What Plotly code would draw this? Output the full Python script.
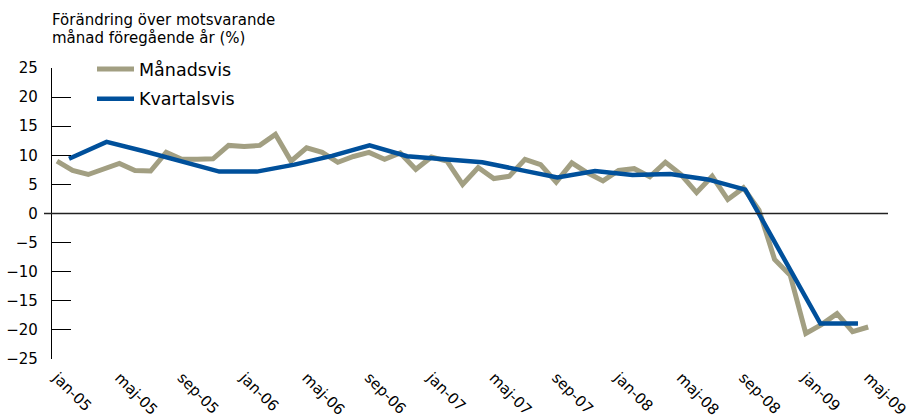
import plotly.graph_objects as go

# Monthly data (jan-05 .. maj-09), year-on-year change in %
monthly_values = [
    9.0, 7.4, 6.7, 7.6, 8.6, 7.4, 7.3, 10.5, 9.3, 9.3, 9.4, 11.7,
    11.5, 11.7, 13.6, 9.0, 11.3, 10.5, 8.8, 9.8, 10.5, 9.3, 10.4, 7.6,
    9.7, 9.0, 5.0, 7.9, 6.0, 6.4, 9.3, 8.4, 5.4, 8.7, 7.0, 5.6,
    7.4, 7.7, 6.3, 8.8, 6.7, 3.6, 6.4, 2.4, 4.4, 0.6, -7.9, -10.6,
    -20.6, -19.1, -17.2, -20.3, -19.5,
]
month_index = list(range(len(monthly_values)))

# Quarterly series (plotted on its own category axis)
quarterly_values = [
    9.4, 12.3, 10.7, 9.0, 7.2, 7.2, 8.4, 9.9, 11.7, 9.85, 9.3,
    8.8, 7.5, 6.2, 7.3, 6.6, 6.8, 5.85, 4.1, -7.4, -18.9, -18.9,
]
quarter_index = list(range(len(quarterly_values)))

tick_months = list(range(0, 53, 4))
tick_labels = [
    "jan-05", "maj-05", "sep-05", "jan-06", "maj-06", "sep-06", "jan-07",
    "maj-07", "sep-07", "jan-08", "maj-08", "sep-08", "jan-09", "maj-09",
]

y_ticks = list(range(-25, 30, 5))

GRAY = "#A29F82"
BLUE = "#00509B"
FONT = "DejaVu Sans"

fig = go.Figure()
fig.add_trace(go.Scatter(
    x=month_index, y=monthly_values, mode="lines", name="Månadsvis",
    line=dict(color=GRAY, width=5), legendgroup="a",
))
fig.add_trace(go.Scatter(
    x=quarter_index, y=quarterly_values, mode="lines", name="Kvartalsvis",
    line=dict(color=BLUE, width=4.5), xaxis="x2", legendgroup="b",
))

W, H = 909, 419
L, R, T, B = 52, 21, 68, 60
plot_w = W - L - R

fig.update_layout(
    width=W, height=H,
    margin=dict(l=L, r=R, t=T, b=B, autoexpand=False),
    paper_bgcolor="white", plot_bgcolor="white",
    font=dict(family=FONT, size=15, color="black"),
    showlegend=True,
    legend=dict(
        x=(92 - L) / plot_w, y=1 + (68 - 51) / 291, xanchor="left", yanchor="top",
        font=dict(family=FONT, size=17.5, color="black"),
        bgcolor="rgba(0,0,0,0)", tracegroupgap=4, traceorder="grouped",
        itemwidth=37,
    ),
    xaxis=dict(
        range=[-(57 - L) / 15.6, -(57 - L) / 15.6 + plot_w / 15.6],
        tickmode="array", tickvals=tick_months, ticktext=tick_labels,
        tickangle=45, showline=False, showgrid=False, zeroline=False,
        ticks="", automargin=False, ticklabeloverflow="allow",
        ticklabelstandoff=6,
        tickfont=dict(family=FONT, size=15, color="black"),
    ),
    xaxis2=dict(
        range=[-(69 - L) / 37.57, -(69 - L) / 37.57 + plot_w / 37.57],
        overlaying="x", visible=False,
    ),
    yaxis=dict(
        range=[-25, 25], tickmode="array", tickvals=y_ticks,
        ticks="inside", ticklen=19, tickwidth=1.3, tickcolor="black",
        showline=True, linecolor="black", linewidth=1.3,
        showgrid=False, zeroline=False, ticklabelstandoff=10,
        automargin=False,
        tickfont=dict(family=FONT, size=15, color="black"),
    ),
    shapes=[dict(
        type="line", xref="paper", yref="y", x0=-8 / plot_w, x1=1, y0=0, y1=0,
        line=dict(color="#222222", width=1.3),
    )],
    annotations=[
        dict(text="Förändring över motsvarande", xref="paper", yref="paper",
             x=(50 - L) / plot_w, y=1 + (68 - 20.5) / 291, xanchor="left",
             yanchor="middle", showarrow=False,
             font=dict(family=FONT, size=15, color="black")),
        dict(text="månad föregående år (%)", xref="paper", yref="paper",
             x=(50 - L) / plot_w, y=1 + (68 - 38.5) / 291, xanchor="left",
             yanchor="middle", showarrow=False,
             font=dict(family=FONT, size=15, color="black")),
    ],
)

fig.write_html(
    "out.html",
    config={"displayModeBar": False},
    post_script="document.body.style.margin='0';document.body.style.padding='0';",
)
